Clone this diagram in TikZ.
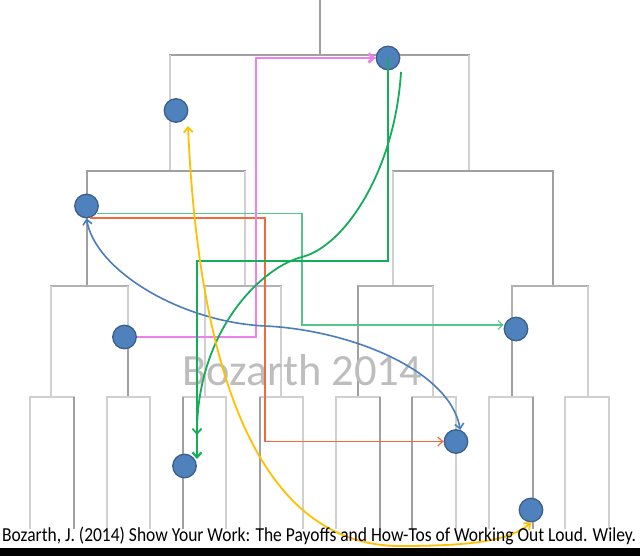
\documentclass[tikz,border=0pt]{standalone}
\usepackage{fontspec}
\setmainfont{Carlito}
\usetikzlibrary{arrows.meta}
\definecolor{dotfill}{HTML}{4F81BD}
\definecolor{dotline}{HTML}{3A5F8B}
\definecolor{gdark}{HTML}{A0A0A0}
\definecolor{gmid}{HTML}{B2B2B2}
\definecolor{glight}{HTML}{D0D0D0}
\definecolor{pinkc}{HTML}{EE80EE}
\definecolor{greenc}{HTML}{16AD5A}
\definecolor{lgreenc}{HTML}{55C68A}
\definecolor{redc}{HTML}{F26A3C}
\definecolor{bluec}{HTML}{4A7EBB}
\definecolor{yellowc}{HTML}{FFC000}
\definecolor{wmc}{HTML}{BDBDBD}
\tikzset{
  dk/.style={draw=gdark,line width=2.7pt,line cap=rect},
  md/.style={draw=gmid,line width=2.7pt,line cap=rect},
  lt/.style={draw=glight,line width=2.7pt,line cap=rect},
  dot/.style={circle,fill=dotfill,draw=dotline,line width=1.3pt,minimum size=23.5pt,inner sep=0pt},
  barbend/.style={-{Straight Barb[length=5pt,width=9pt]}},
  barbboth/.style={{Straight Barb[length=5pt,width=9pt]}-{Straight Barb[length=5pt,width=9pt]}},
}
\begin{document}
\begin{tikzpicture}[x=1pt,y=-1pt]
\useasboundingbox (0,0) rectangle (640,556);
\fill[white] (0,0) rectangle (640,556);
% level 0/1
\draw[dk] (320,0) -- (320,55);
\draw[dk] (170,55) -- (469,55);
\draw[lt] (170,56) -- (170,171);
\draw[lt] (469,56) -- (469,171);
% level 2
\draw[dk] (87,171) -- (245,171);
\draw[dk] (393,171) -- (553,171);
\draw[dk] (87,172) -- (87,286);
\draw[lt] (245,172) -- (245,286);
\draw[lt] (393,172) -- (393,286);
\draw[dk] (553,172) -- (553,286);
% level 3
\draw[md] (51,286) -- (128,286);
\draw[md] (205,286) -- (281,286);
\draw[md] (358,286) -- (433,286);
\draw[md] (512,286) -- (588,286);
\draw[lt] (51,287) -- (51,397);
\draw[lt] (128,287) -- (128,337);
\draw[dk] (128,337) -- (128,397);
\draw[lt] (205,287) -- (205,397);
\draw[lt] (281,287) -- (281,397);
\draw[dk] (358,287) -- (358,397);
\draw[lt] (433,287) -- (433,397);
\draw[md] (512,287) -- (512,329);
\draw[dk] (512,329) -- (512,397);
\draw[lt] (588,287) -- (588,397);
% level 4
\foreach \a/\b/\ca/\cb in {30/74/glight/gdark,107/150/glight/glight,183/226/gdark/glight,260/303/gdark/glight,336/380/glight/gdark,412/456/gdark/glight,489/533/glight/gdark,565/609/glight/glight}{
  \draw[md,draw=glight] (\a,397) -- (\b,397);
  \draw[md,draw=\ca] (\a,398) -- (\a,528);
  \draw[md,draw=\cb] (\b,398) -- (\b,528);
}
% watermark
\node[anchor=base west,inner sep=0pt,text=wmc] (wm) at (182,385) {\resizebox{240pt}{!}{\fontsize{43.5}{50}\selectfont Bozarth 2014}};
% dots
\node[dot] (d1) at (388,58) {};
\node[dot] (d2) at (176,110.5) {};
\node[dot] (d3) at (86.5,206) {};
\node[dot] (d4) at (124.5,337) {};
\node[dot] (d5) at (516,329) {};
\node[dot] (d6) at (456,441.5) {};
\node[dot] (d7) at (184.5,466) {};
\node[dot] (d8) at (531,510) {};
% helper coordinates
\coordinate (pk) at (256,337);
\coordinate (gb) at (197,261);
\coordinate (ge) at (197,459);
\coordinate (gcs) at (401,72);
\coordinate (gce) at (197,435);
\coordinate (tg) at (302,325);
\coordinate (rc) at (265,441.5);
\coordinate (ytop) at (188,126);
% connectors
\draw[lgreenc,line width=1.1pt,barbend] (d3.-35) -| (tg) -- (tg -| d5.west);
\draw[redc,line width=1.2pt,barbend] (d3.-75) -| (rc) -- (d6.west);
\draw[pinkc,line width=2.8pt,barbend] (d4.east) -| (pk) |- (d1.west);
\draw[greenc,line width=2.2pt,barbend] (d1.center) |- (gb) -- (ge);
\draw[greenc,line width=1.8pt,barbend] (gcs) .. controls (395,170) and (345,246) .. (302,257) .. controls (262,267) and (197,330) .. (gce);
\draw[bluec,line width=1.6pt,barbboth] (d3.south) .. controls (95,270) and (180,322) .. (265,326) .. controls (350,330) and (450,370) .. (d6.70);
\draw[yellowc,line width=1.8pt,barbboth] (ytop) .. controls (200,398) and (270,546) .. (400,546) .. controls (470,546) and (510,541) .. (d8.south);
% caption
\node[anchor=base west,inner sep=0pt] (cap) at (2,541) {\resizebox{634pt}{14.5pt}{\fontsize{17.3}{20}\selectfont Bozarth, J. (2014) Show Your Work: The Payoffs and How-Tos of Working Out Loud. Wiley.}};
\fill[black] (0,548) rectangle (640,556);
\end{tikzpicture}
\end{document}
